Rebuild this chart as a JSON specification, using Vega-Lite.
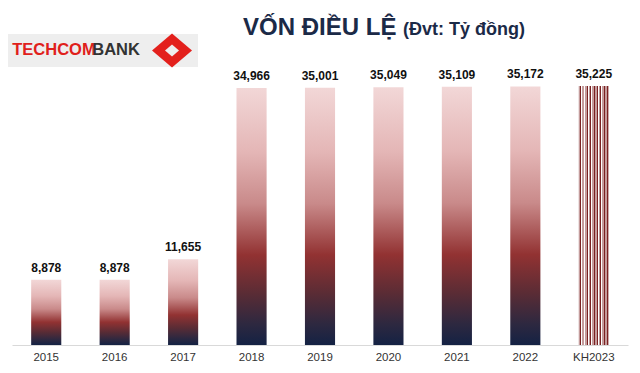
{
  "$schema": "https://vega.github.io/schema/vega-lite/v6.json",
  "width": 616,
  "height": 335,
  "autosize": "none",
  "padding": {"left": 12, "top": 10, "right": 12, "bottom": 28},
  "background": "white",
  "config": {"view": {"stroke": null}, "font": "Liberation Sans"},
  "encoding": {
    "x": {
      "field": "year", "type": "ordinal", "sort": null,
      "scale": {"domain": ["2015","2016","2017","2018","2019","2020","2021","2022","KH2023"], "paddingInner": 0.56, "paddingOuter": 0.28},
      "axis": {"title": null, "labelAngle": 0, "ticks": false, "domainColor": "#d9d9d9", "labelFontSize": 11.5, "labelColor": "#333333", "labelPadding": 6, "labelFont": "Liberation Sans"}
    },
    "y": {"field": "value", "type": "quantitative", "scale": {"domain": [0, 45561]}, "axis": null}
  },
  "layer": [
    {
      "data": {"values": [
        {"year": "2015", "value": 8878},
        {"year": "2016", "value": 8878},
        {"year": "2017", "value": 11655},
        {"year": "2018", "value": 34966},
        {"year": "2019", "value": 35001},
        {"year": "2020", "value": 35049},
        {"year": "2021", "value": 35109},
        {"year": "2022", "value": 35172},
        {"year": "KH2023", "value": 35225}
      ]},
      "layer": [
        {
          "transform": [{"filter": "datum.year !== 'KH2023'"}],
          "mark": {"type": "bar", "fill": {
            "gradient": "linear", "x1": 0, "y1": 0, "x2": 0, "y2": 1,
            "stops": [
              {"offset": 0, "color": "#f2d7d7"},
              {"offset": 0.25, "color": "#e4b6b6"},
              {"offset": 0.45, "color": "#c98a8a"},
              {"offset": 0.65, "color": "#923232"},
              {"offset": 0.8, "color": "#5a2c35"},
              {"offset": 0.92, "color": "#2d2840"},
              {"offset": 1, "color": "#142244"}
            ]}}
        },
        {
          "transform": [{"filter": "datum.year === 'KH2023'"}],
          "mark": {"type": "bar", "fill": {
            "gradient": "linear", "x1": 0, "y1": 0, "x2": 1, "y2": 0,
            "stops": [
              {"offset": 0, "color": "#c49c9c"}, {"offset": 0.05, "color": "#c49c9c"}, {"offset": 0.05, "color": "#7a2222"}, {"offset": 0.08, "color": "#7a2222"}, {"offset": 0.08, "color": "#ffffff"}, {"offset": 0.111, "color": "#ffffff"},
              {"offset": 0.111, "color": "#c49c9c"}, {"offset": 0.161, "color": "#c49c9c"}, {"offset": 0.161, "color": "#7a2222"}, {"offset": 0.191, "color": "#7a2222"}, {"offset": 0.191, "color": "#ffffff"}, {"offset": 0.222, "color": "#ffffff"},
              {"offset": 0.222, "color": "#c49c9c"}, {"offset": 0.272, "color": "#c49c9c"}, {"offset": 0.272, "color": "#7a2222"}, {"offset": 0.302, "color": "#7a2222"}, {"offset": 0.302, "color": "#ffffff"}, {"offset": 0.333, "color": "#ffffff"},
              {"offset": 0.333, "color": "#c49c9c"}, {"offset": 0.383, "color": "#c49c9c"}, {"offset": 0.383, "color": "#7a2222"}, {"offset": 0.413, "color": "#7a2222"}, {"offset": 0.413, "color": "#ffffff"}, {"offset": 0.444, "color": "#ffffff"},
              {"offset": 0.444, "color": "#c49c9c"}, {"offset": 0.494, "color": "#c49c9c"}, {"offset": 0.494, "color": "#7a2222"}, {"offset": 0.524, "color": "#7a2222"}, {"offset": 0.524, "color": "#ffffff"}, {"offset": 0.556, "color": "#ffffff"},
              {"offset": 0.556, "color": "#c49c9c"}, {"offset": 0.606, "color": "#c49c9c"}, {"offset": 0.606, "color": "#7a2222"}, {"offset": 0.636, "color": "#7a2222"}, {"offset": 0.636, "color": "#ffffff"}, {"offset": 0.667, "color": "#ffffff"},
              {"offset": 0.667, "color": "#c49c9c"}, {"offset": 0.717, "color": "#c49c9c"}, {"offset": 0.717, "color": "#7a2222"}, {"offset": 0.747, "color": "#7a2222"}, {"offset": 0.747, "color": "#ffffff"}, {"offset": 0.778, "color": "#ffffff"},
              {"offset": 0.778, "color": "#c49c9c"}, {"offset": 0.828, "color": "#c49c9c"}, {"offset": 0.828, "color": "#7a2222"}, {"offset": 0.858, "color": "#7a2222"}, {"offset": 0.858, "color": "#ffffff"}, {"offset": 0.889, "color": "#ffffff"},
              {"offset": 0.889, "color": "#c49c9c"}, {"offset": 0.939, "color": "#c49c9c"}, {"offset": 0.939, "color": "#7a2222"}, {"offset": 0.969, "color": "#7a2222"}, {"offset": 0.969, "color": "#c49c9c"}, {"offset": 1, "color": "#c49c9c"}
            ]}}
        },
        {
          "mark": {"type": "text", "baseline": "bottom", "dy": -5, "fontSize": 12, "fontWeight": "bold", "color": "#111111", "font": "Liberation Sans"},
          "encoding": {"text": {"field": "value", "type": "quantitative", "format": ","}}
        }
      ]
    },
    {
      "data": {"values": [{"year": "2016", "value": 40053}]},
      "mark": {"type": "point", "filled": true, "opacity": 1, "color": "#eeeeee", "size": 36100, "shape": "M-1.123,-0.174H0.877V0.174H-1.123Z"}
    },
    {
      "data": {"values": [{"year": "2017", "value": 40053}]},
      "mark": {"type": "point", "filled": true, "opacity": 1, "color": "#e3201c", "size": 1600, "shape": "M-1.555,0L-0.555,-0.85L0.445,0L-0.555,0.85Z"}
    },
    {
      "data": {"values": [{"year": "2017", "value": 40053}]},
      "mark": {"type": "point", "filled": true, "opacity": 1, "color": "#eeeeee", "size": 1600, "shape": "M-0.905,0L-0.555,-0.3L-0.205,0L-0.555,0.3Z"}
    },
    {
      "data": {"values": [{"year": "2015", "value": 39441, "label": "TECHCOM"}]},
      "mark": {"type": "text", "align": "left", "baseline": "alphabetic", "dx": -34, "fontSize": 16.5, "fontWeight": "bold", "color": "#e0201b", "font": "Liberation Sans"},
      "encoding": {"text": {"field": "label"}}
    },
    {
      "data": {"values": [{"year": "2015", "value": 39441, "label": "BANK"}]},
      "mark": {"type": "text", "align": "left", "baseline": "alphabetic", "dx": 46, "fontSize": 16.5, "fontWeight": "bold", "color": "#333333", "font": "Liberation Sans"},
      "encoding": {"text": {"field": "label"}}
    },
    {
      "data": {"values": [{"year": "2018", "value": 42161, "label": "VỐN ĐIỀU LỆ"}]},
      "mark": {"type": "text", "align": "left", "baseline": "alphabetic", "dx": -8.5, "fontSize": 24, "fontWeight": "bold", "color": "#1b2a47", "font": "Liberation Sans"},
      "encoding": {"text": {"field": "label"}}
    },
    {
      "data": {"values": [{"year": "2020", "value": 42161, "label": "(Đvt: Tỷ đồng)"}]},
      "mark": {"type": "text", "align": "left", "baseline": "alphabetic", "dx": 14.6, "fontSize": 18, "fontWeight": "bold", "color": "#1b2a47", "font": "Liberation Sans"},
      "encoding": {"text": {"field": "label"}}
    }
  ]
}
